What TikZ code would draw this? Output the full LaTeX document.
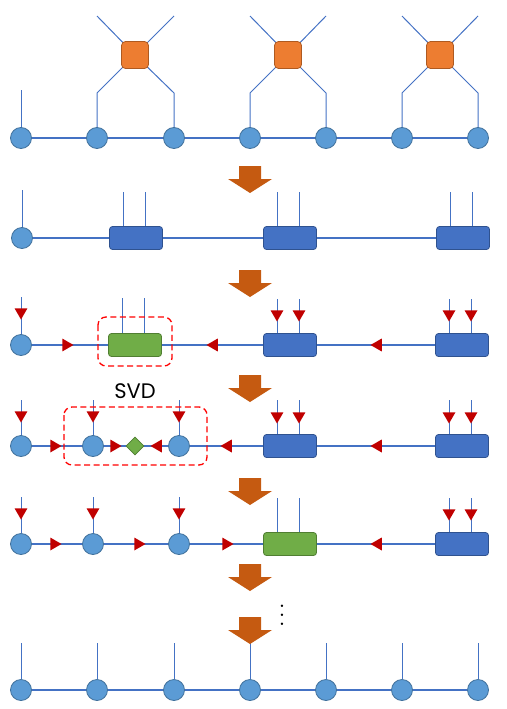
\documentclass[tikz,border=0pt]{standalone}
\usepackage{fontspec}
\newfontfamily\svdfont{Poppins}
\usetikzlibrary{shapes.geometric,backgrounds,positioning}

\definecolor{sitefill}{HTML}{5B9BD5}
\definecolor{siteline}{HTML}{41719C}
\definecolor{bondblue}{HTML}{4472C4}
\definecolor{blockfill}{HTML}{4472C4}
\definecolor{blockline}{HTML}{2F528F}
\definecolor{mergefill}{HTML}{70AD47}
\definecolor{mergeline}{HTML}{507E32}
\definecolor{gatefill}{HTML}{ED7D31}
\definecolor{gateline}{HTML}{AE5A21}
\definecolor{stepfill}{HTML}{C55A11}
\definecolor{tipred}{HTML}{C00000}
\definecolor{dashred}{HTML}{FF0000}

\begin{document}
\begin{tikzpicture}[
        x=1pt, y=-1pt,
        site/.style={circle, draw=siteline, fill=sitefill, line width=0.8pt, minimum size=21pt, inner sep=0pt},
        gate/.style={rectangle, rounded corners=4pt, draw=gateline, fill=gatefill, line width=0.8pt, minimum size=27pt, inner sep=0pt},
        block/.style={rectangle, rounded corners=3pt, draw=blockline, fill=blockfill, line width=0.8pt, minimum width=53pt, minimum height=23pt, inner sep=0pt},
        merged/.style={block, draw=mergeline, fill=mergefill},
        core/.style={diamond, draw=mergeline, fill=mergefill, line width=0.6pt, minimum size=18pt, inner sep=0pt},
        tri/.style={regular polygon, regular polygon sides=3, fill=tipred, inner sep=0pt, minimum size=15pt},
        tdown/.style={tri, shape border rotate=180},
        tright/.style={tri, shape border rotate=-90},
        tleft/.style={tri, shape border rotate=90},
        bond/.style={draw=bondblue, line width=1.6pt},
        leg/.style={draw=bondblue, line width=1pt},
        svdbox/.style={draw=dashred, line width=1.3pt, dash pattern=on 6pt off 3.5pt, rounded corners=8pt}]

    \useasboundingbox (0,0) rectangle (506,709);

    % BIG ARROWS
    \foreach \t in {166,270,375,478,564,617}
        \fill[stepfill] (239,\t) -- (261,\t) -- (261,\t+13) -- (272,\t+13)
            -- (250,\t+27) -- (228,\t+13) -- (239,\t+13) -- cycle;

    % ROW 1: sites and gates
    \foreach \i/\x in {1/21,2/97,3/174,4/250,5/326,6/402,7/478}
        \node[site] (a\i) at (\x,138) {};
    \foreach \g/\x in {1/135,2/288,3/440}
        \node[gate] (g\g) at (\x,55) {};
    \coordinate (a1t) at (21,90);

    % ROW 2: contracted blocks
    \node[site] (b0) at (22,238) {};
    \coordinate (b0t) at (22,190);
    \foreach \i/\x in {1/136,2/290,3/463} {
        \node[block] (b\i) at (\x,238) {};
        \coordinate (pb\i) at (\x-13,192);
        \coordinate (qb\i) at (\x+9,192);
    }

    % ROW 3: merged block
    \node[site] (c0) at (21,345) {};
    \coordinate (c0t) at (21,297);
    \node[merged] (c1) at (135,345) {};
    \coordinate (pc1) at (122,298);
    \coordinate (qc1) at (144,298);
    \foreach \i/\x in {2/290,3/462} {
        \node[block] (c\i) at (\x,345) {};
        \coordinate (pc\i) at (\x-13,299);
        \coordinate (qc\i) at (\x+9,299);
    }
    \draw[svdbox] (98,317) rectangle (172,366);

    % ROW 4: after SVD
    \foreach \i/\x in {0/21,1/93,2/179} {
        \node[site] (d\i) at (\x,446) {};
        \coordinate (d\i t) at (\x,400);
    }
    \node[core] (lam) at (135,446) {};
    \foreach \i/\x in {3/290,4/462} {
        \node[block] (d\i) at (\x,446) {};
        \coordinate (pd\i) at (\x-13,400);
        \coordinate (qd\i) at (\x+9,400);
    }
    \draw[svdbox] (64,407) rectangle (207,465);
    \node[font=\svdfont\fontsize{21}{25}\selectfont] (svd) at (135,391) {SVD};

    % ROW 5: moved on
    \foreach \i/\x in {0/21,1/93,2/179} {
        \node[site] (e\i) at (\x,544) {};
        \coordinate (e\i t) at (\x,497);
    }
    \node[merged] (e3) at (290,544) {};
    \node[block] (e4) at (462,544) {};
    \foreach \i/\x in {3/290,4/462} {
        \coordinate (pe\i) at (\x-13,498);
        \coordinate (qe\i) at (\x+9,498);
    }

    % DOTS
    \node[anchor=north, scale=2.3, font=\boldmath] (dots) at (282,583) {$\vdots$};

    % ROW 6: final sites
    \foreach \i/\x in {1/21,2/97,3/174,4/250,5/326,6/402,7/478} {
        \node[site] (f\i) at (\x,690) {};
        \coordinate (f\i t) at (\x,643);
    }

    % RED TIPS
    \node[tdown] (tc0) at (21,312) {};
    \foreach \i in {2,3} {
        \node[tdown] (tpc\i) at (pc\i |- 0,314) {};
        \node[tdown] (tqc\i) at (qc\i |- 0,314) {};
    }
    \node[tright] (rc1) at (66,345) {};
    \node[tleft] (lc2) at (214,345) {};
    \node[tleft] (lc3) at (378,345) {};

    \foreach \i in {0,1,2}
        \node[tdown] (td\i) at (d\i t |- 0,415) {};
    \foreach \i in {3,4} {
        \node[tdown] (tpd\i) at (pd\i |- 0,416) {};
        \node[tdown] (tqd\i) at (qd\i |- 0,416) {};
    }
    \node[tright] (rd1) at (54,446) {};
    \node[tright] (rd2) at (114,446) {};
    \node[tleft] (ld2) at (158,446) {};
    \node[tleft] (ld3) at (228,446) {};
    \node[tleft] (ld4) at (378,446) {};

    \foreach \i in {0,1,2}
        \node[tdown] (te\i) at (e\i t |- 0,512) {};
    \node[tdown] (tpe4) at (pe4 |- 0,513) {};
    \node[tdown] (tqe4) at (qe4 |- 0,513) {};
    \node[tright] (re1) at (54,544) {};
    \node[tright] (re2) at (138,544) {};
    \node[tright] (re3) at (226,544) {};
    \node[tleft] (le4) at (378,544) {};

    % LINES
    \begin{scope}[on background layer]
        % row 1
        \draw[bond] (a1) -- (a7);
        \draw[leg] (a1) -- (a1t);
        \foreach \g/\l/\r in {1/2/3,2/4/5,3/6/7} {
            \coordinate (k\l) at (a\l |- 0,93);
            \coordinate (k\r) at (a\r |- 0,93);
            \coordinate (u\l) at (a\l |- 0,16);
            \coordinate (u\r) at (a\r |- 0,16);
            \draw[leg] (a\l.center) -- (k\l) -- (g\g.center) -- (k\r) -- (a\r.center);
            \draw[leg] (u\l) -- (g\g.center) -- (u\r);
        }
        % row 2
        \draw[bond] (b0) -- (b3);
        \draw[leg] (b0) -- (b0t);
        \foreach \i in {1,2,3} {
            \draw[leg] (pb\i) -- (pb\i |- b\i.center);
            \draw[leg] (qb\i) -- (qb\i |- b\i.center);
        }
        % row 3
        \draw[bond] (c0) -- (c3);
        \draw[leg] (c0) -- (c0t);
        \foreach \i in {1,2,3} {
            \draw[leg] (pc\i) -- (pc\i |- c\i.center);
            \draw[leg] (qc\i) -- (qc\i |- c\i.center);
        }
        % row 4
        \draw[bond] (d0) -- (d4);
        \foreach \i in {0,1,2}
            \draw[leg] (d\i) -- (d\i t);
        \foreach \i in {3,4} {
            \draw[leg] (pd\i) -- (pd\i |- d\i.center);
            \draw[leg] (qd\i) -- (qd\i |- d\i.center);
        }
        % row 5
        \draw[bond] (e0) -- (e4);
        \foreach \i in {0,1,2}
            \draw[leg] (e\i) -- (e\i t);
        \foreach \i in {3,4} {
            \draw[leg] (pe\i) -- (pe\i |- e\i.center);
            \draw[leg] (qe\i) -- (qe\i |- e\i.center);
        }
        % row 6
        \draw[bond] (f1) -- (f7);
        \foreach \i in {1,...,7}
            \draw[leg] (f\i) -- (f\i t);
    \end{scope}
\end{tikzpicture}
\end{document}
